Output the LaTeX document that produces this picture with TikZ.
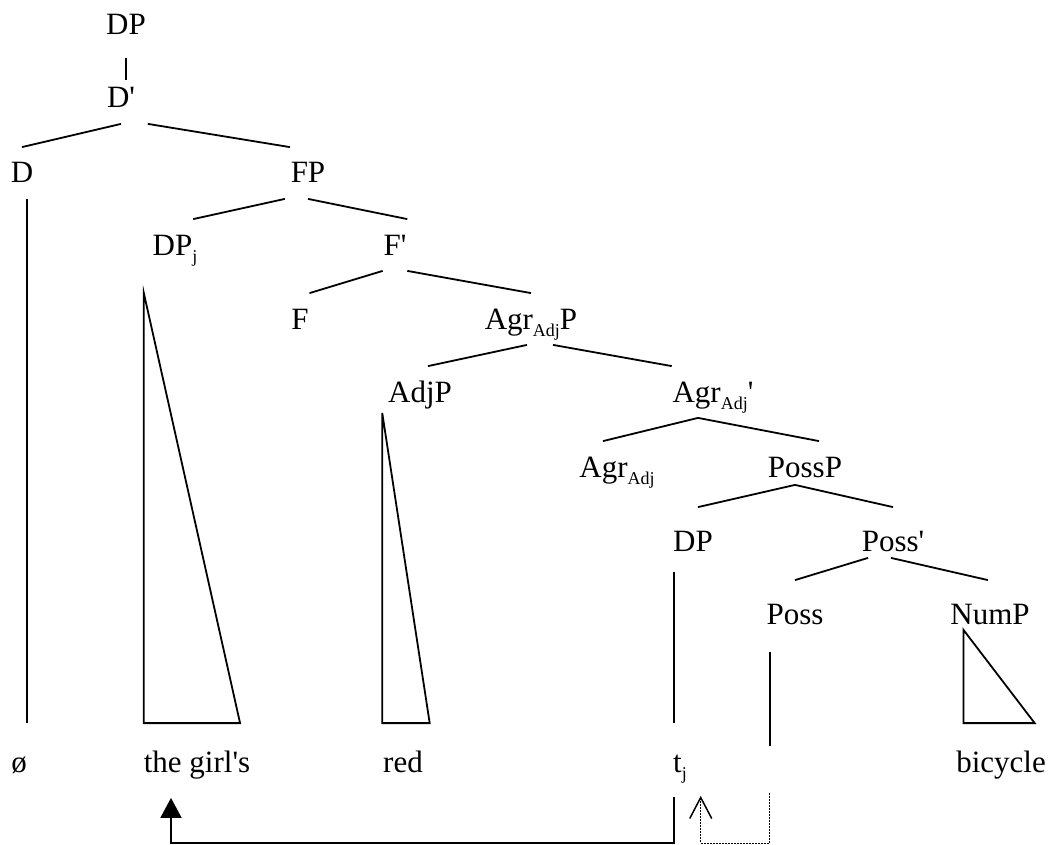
\documentclass[tikz,border=0pt]{standalone}
\usepackage{fontspec}
\setmainfont{Liberation Serif}
\usepackage{tikz}
\usetikzlibrary{arrows.meta,positioning}
\newcommand\lowsub[1]{\raisebox{-7pt}{\fontsize{18}{18}\selectfont #1}}
\newcommand\barprime{\textquotesingle}

\begin{document}
\begin{tikzpicture}[x=1pt, y=-1pt, line width=1.8pt,
	cat/.style={anchor=base, inner xsep=0pt, inner ysep=8pt, text height=27pt, text depth=7pt, font=\fontsize{31}{36}\selectfont},
	word/.style={cat, text height=40pt},
	dotline/.style={line width=1pt, dash pattern=on 1.5pt off 1.5pt}]
	\useasboundingbox (0,0) rectangle (1052,845);
	% labels
	\node[cat] (DPtop) at (126,35) {DP};
	\node[cat] (Dbar) at (121,108) {D\barprime};
	\node[cat] (D) at (22,183) {D};
	\node[cat] (FP) at (308,183) {FP};
	\node[cat] (DPj) at (175,255) {DP\lowsub{j}};
	\node[cat] (Fbar) at (395,255) {F\barprime};
	\node[cat] (F) at (300,329) {F};
	\node[cat] (AgrP) at (531,329) {Agr\lowsub{Adj}P};
	\node[cat] (AdjP) at (420,402) {AdjP};
	\node[cat] (Agrbar) at (713,402) {Agr\lowsub{Adj}\barprime};
	\node[cat] (Agr) at (617,477) {Agr\lowsub{Adj}};
	\node[cat] (PossP) at (805,477) {PossP};
	\node[cat] (DPlow) at (693,551) {DP};
	\node[cat] (Possbar) at (893,551) {Poss\barprime};
	\node[cat] (Poss) at (795,624) {Poss};
	\node[cat] (NumP) at (990,624) {NumP};
	\node[word] (nul) at (19,772) {ø};
	\node[word] (girls) at (197,772) {the girl\textquotesingle s};
	\node[word] (red) at (403,772) {red};
	\node[word] (tj) at (680,772) {t\lowsub{j}};
	\node[word] (bike) at (1001,772) {bicycle};
	% branches
	\draw[shorten <=7pt, shorten >=-8pt] (DPtop.south) -- (DPtop.south |- Dbar.north);
	\draw (Dbar.south) -- (D.north);
	\draw ([xshift=12pt]Dbar.south east) -- (FP.north west);
	\draw ([xshift=-5pt]FP.south west) -- ([xshift=-5pt]DPj.north east);
	\draw (FP.south) -- (Fbar.north east);
	\draw (Fbar.south west) -- (F.north east);
	\draw (Fbar.south east) -- (AgrP.north);
	\draw ([xshift=-4pt]AgrP.south) -- ([xshift=8pt]AdjP.north);
	\draw ([xshift=22pt]AgrP.south) -- (Agrbar.north west);
	\draw ([xshift=-15pt]Agrbar.south) -- ([xshift=-14pt]Agr.north);
	\draw ([xshift=-15pt]Agrbar.south) -- ([xshift=14pt]PossP.north);
	\draw ([xshift=-10pt,yshift=8pt]PossP.south) -- ([xshift=5pt,yshift=8pt]DPlow.north);
	\draw ([xshift=-10pt,yshift=8pt]PossP.south) -- ([yshift=8pt]Possbar.north);
	\draw ([xshift=-25pt,yshift=9pt]Possbar.south) -- ([yshift=8pt]Poss.north);
	\draw ([xshift=-2pt,yshift=9pt]Possbar.south) -- ([xshift=-2pt,yshift=8pt]NumP.north);
	% stems and triangles
	\coordinate (jtop) at ([xshift=-8pt,yshift=-22pt]DPj.south west);
	\coordinate (adjtop) at ([xshift=-5pt,yshift=5pt]AdjP.south west);
	\coordinate (numtop) at ([xshift=14pt,yshift=10pt]NumP.south west);
	\coordinate (posslow) at ([xshift=4pt,yshift=-23pt]Poss.south west |- tj.north);
	\draw ([xshift=5pt]D.south) -- ([xshift=5pt]D.south |- nul.north);
	\draw (jtop) -- (jtop |- girls.north) -- ([xshift=-11pt]girls.north east) -- cycle;
	\draw (adjtop) -- (adjtop |- red.north) -- ([xshift=6pt]red.north east) -- cycle;
	\draw ([xshift=2pt,yshift=-5pt]DPlow.south west) -- ([xshift=2pt]DPlow.south west |- tj.north);
	\draw ([xshift=4pt,yshift=-12pt]Poss.south west) -- (posslow);
	\draw (numtop) -- (numtop |- bike.north) -- ([xshift=-12pt]bike.north east) -- cycle;
	% movement
	\coordinate (floor) at (0,843);
	\coordinate (tjfoot) at ([xshift=2pt,yshift=-9pt]tj.south west);
	\coordinate (possdot) at ([yshift=-47pt]posslow);
	\draw[-{Triangle[length=20pt,width=21pt]}] (tjfoot) -- (tjfoot |- floor) -| ([xshift=-26pt,yshift=-10pt]girls.south);
	\draw[dotline, -{Straight Barb[length=21pt,width=22pt,line width=1.5pt]}] (possdot) -- (possdot |- floor) -| ([xshift=13pt,yshift=-8pt]tj.south east);
\end{tikzpicture}
\end{document}
